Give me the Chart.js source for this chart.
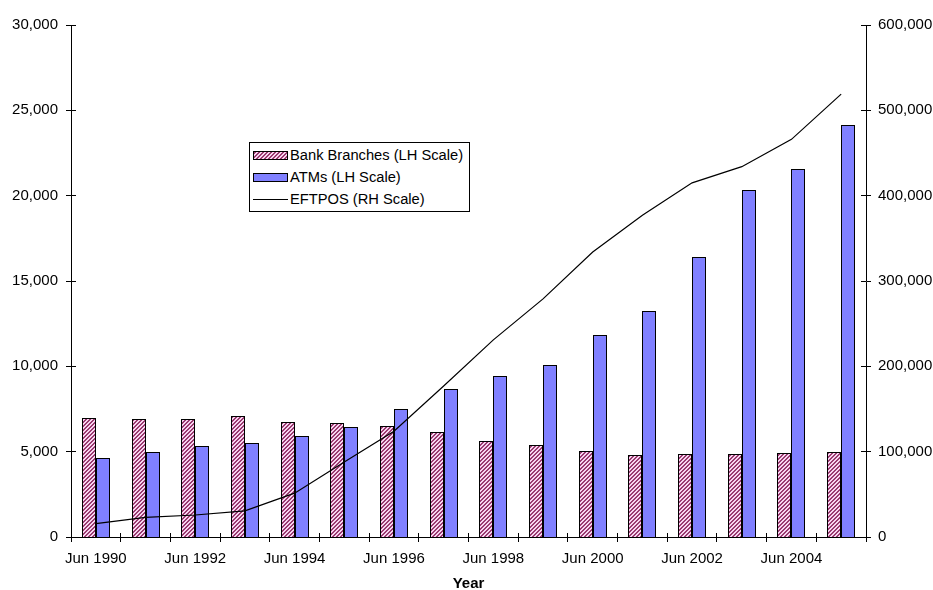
<!DOCTYPE html>
<html>
<head>
<meta charset="utf-8">
<script src="https://cdn.jsdelivr.net/npm/chart.js@4"></script>
<style>
  body { margin: 0; background: #fff; }
  #wrap { position: relative; width: 933px; height: 590px; }
  #legend {
    position: absolute; left: 249px; top: 142px; width: 219px; height: 68px;
    border: 1px solid #000; background: #fff;
    font: 14.7px "Liberation Sans", Arial, sans-serif; color: #000;
  }
  .row { position: absolute; left: 0; height: 18px; line-height: 18px; white-space: nowrap; }
  .sw { position: absolute; left: 3px; width: 35px; box-sizing: border-box; }
  .txt { position: absolute; left: 40px; top: 0; }
</style>
</head>
<body>
<div id="wrap">
  <canvas id="chart"></canvas>
  <div id="legend">
    <div class="row" style="top:3px"><div class="sw" id="swBank" style="top:5px;height:9px;border:1px solid #000"></div><span class="txt">Bank Branches (LH Scale)</span></div>
    <div class="row" style="top:25px"><div class="sw" style="top:5px;height:9px;border:1px solid #000;background:#8080ff"></div><span class="txt">ATMs (LH Scale)</span></div>
    <div class="row" style="top:47px"><div class="sw" style="top:9px;height:1px;background:#000"></div><span class="txt">EFTPOS (RH Scale)</span></div>
  </div>
</div>
<script>
const categories = ["Jun 1990", "Jun 1991", "Jun 1992", "Jun 1993", "Jun 1994", "Jun 1995", "Jun 1996", "Jun 1997",
  "Jun 1998", "Jun 1999", "Jun 2000", "Jun 2001", "Jun 2002", "Jun 2003", "Jun 2004", "Jun 2005"];
const xTickLabels = ["Jun 1990", "", "Jun 1992", "", "Jun 1994", "", "Jun 1996", "",
  "Jun 1998", "", "Jun 2000", "", "Jun 2002", "", "Jun 2004", ""];
const bankBranches = [6950, 6910, 6910, 7100, 6760, 6660, 6520, 6130, 5610, 5370, 5030, 4790, 4850, 4860, 4900, 4960];
const atms = [4650, 4960, 5310, 5500, 5920, 6430, 7480, 8690, 9460, 10090, 11840, 13270, 16390, 20330, 21540, 24160];
const eftpos = [15600, 23000, 25800, 30700, 51400, 88000, 124000, 177000, 231000, 279000, 334000, 377000, 415000, 434000, 466000, 519000];

const FONT = "'Liberation Sans', Arial, sans-serif";

function makeHatch() {
  const c = document.createElement("canvas");
  c.width = 4; c.height = 4;
  const g = c.getContext("2d");
  for (let x = 0; x < 4; x++) {
    for (let y = 0; y < 4; y++) {
      g.fillStyle = (x + y) % 4 < 2 ? "#9a3a70" : "#f8d4f0";
      g.fillRect(x, y, 1, 1);
    }
  }
  return c;
}

const hatchTile = makeHatch();
document.getElementById("swBank").style.background = "url(" + hatchTile.toDataURL() + ")";

function align(p) {
  return Math.round(p - 0.5) + 0.5;
}

// snap the bar pairs to whole pixels so the black outlines stay crisp
const snapBars = {
  id: "snapBars",
  beforeDatasetsDraw(chart) {
    const a = chart.getDatasetMeta(0).data;
    const b = chart.getDatasetMeta(1).data;
    a.forEach((bank, i) => {
      const atm = b[i];
      const w = Math.round(bank.width);
      const mid = (bank.x + atm.x) / 2;
      const left = Math.round(mid - w);
      bank.x = left + w / 2;
      atm.x = left + w + w / 2;
      bank.width = w;
      atm.width = w;
      bank.y = Math.round(bank.y);
      atm.y = Math.round(atm.y);
      bank.base = Math.round(bank.base);
      atm.base = Math.round(atm.base);
    });
  },
};

const crossTicks = {
  id: "crossTicks",
  afterDatasetsDraw(chart) {
    const { ctx, chartArea: a, scales } = chart;
    ctx.save();
    ctx.strokeStyle = "#000";
    ctx.lineWidth = 1;
    ctx.beginPath();
    scales.y.ticks.forEach((t) => {
      const p = align(scales.y.getPixelForValue(t.value));
      ctx.moveTo(a.left, p);
      ctx.lineTo(a.left + 5, p);
    });
    scales.y1.ticks.forEach((t) => {
      const p = align(scales.y1.getPixelForValue(t.value));
      ctx.moveTo(a.right, p);
      ctx.lineTo(a.right - 5, p);
    });
    const n = categories.length;
    for (let i = 1; i < n; i++) {
      const p = align(a.left + (i * a.width) / n);
      ctx.moveTo(p, a.bottom);
      ctx.lineTo(p, a.bottom - 4);
    }
    ctx.stroke();
    ctx.restore();
  },
};

function createChart() {
  const ctx = document.getElementById("chart");
  const hatch = ctx.getContext("2d").createPattern(hatchTile, "repeat");
  const tickFont = { family: FONT, size: 15 };

  return new Chart(ctx, {
    type: "bar",
    data: {
      labels: categories,
      datasets: [
        {
          label: "Bank Branches (LH Scale)",
          data: bankBranches,
          backgroundColor: hatch,
          borderColor: "#000",
          borderWidth: 1,
          yAxisID: "y",
          order: 1,
        },
        {
          label: "ATMs (LH Scale)",
          data: atms,
          backgroundColor: "#8080ff",
          borderColor: "#000",
          borderWidth: 1,
          yAxisID: "y",
          order: 1,
        },
        {
          label: "EFTPOS (RH Scale)",
          data: eftpos,
          type: "line",
          borderColor: "#000",
          borderWidth: 1.2,
          pointRadius: 0,
          tension: 0,
          fill: false,
          yAxisID: "y1",
          order: 0,
        },
      ],
    },
    options: {
      responsive: true,
      maintainAspectRatio: false,
      animation: false,
      layout: { padding: { top: 25, left: 0, right: 0, bottom: 0 } },
      categoryPercentage: 0.575,
      barPercentage: 1,
      plugins: {
        legend: { display: false },
        tooltip: { enabled: false },
      },
      scales: {
        x: {
          grid: { drawOnChartArea: false, tickLength: 5, color: "#000", offset: true },
          border: { display: true, color: "#000", width: 1 },
          ticks: {
            autoSkip: false,
            maxRotation: 0,
            padding: 8,
            color: "#000",
            font: tickFont,
            callback: (value, index) => xTickLabels[index],
          },
          title: {
            display: true,
            text: "Year",
            color: "#000",
            font: { family: FONT, size: 15, weight: "bold", lineHeight: 1 },
            padding: { top: 0, bottom: -1 },
          },
          afterFit: (scale) => { scale.height = 53; },
        },
        y: {
          position: "left",
          min: 0,
          max: 30000,
          grid: { drawOnChartArea: false, tickLength: 5, color: "#000" },
          border: { display: true, color: "#000", width: 1 },
          ticks: {
            stepSize: 5000,
            padding: 8,
            color: "#000",
            font: tickFont,
            callback: (value) => value.toLocaleString("en-US"),
          },
          afterFit: (scale) => { scale.width = 71; },
        },
        y1: {
          position: "right",
          min: 0,
          max: 600000,
          grid: { drawOnChartArea: false, tickLength: 5, color: "#000" },
          border: { display: true, color: "#000", width: 1 },
          ticks: {
            stepSize: 100000,
            padding: 7,
            color: "#000",
            font: tickFont,
            callback: (value) => value.toLocaleString("en-US"),
          },
          afterFit: (scale) => { scale.width = 67; },
        },
      },
    },
    plugins: [snapBars, crossTicks],
  });
}

document.addEventListener("DOMContentLoaded", createChart);
</script>
</body>
</html>
